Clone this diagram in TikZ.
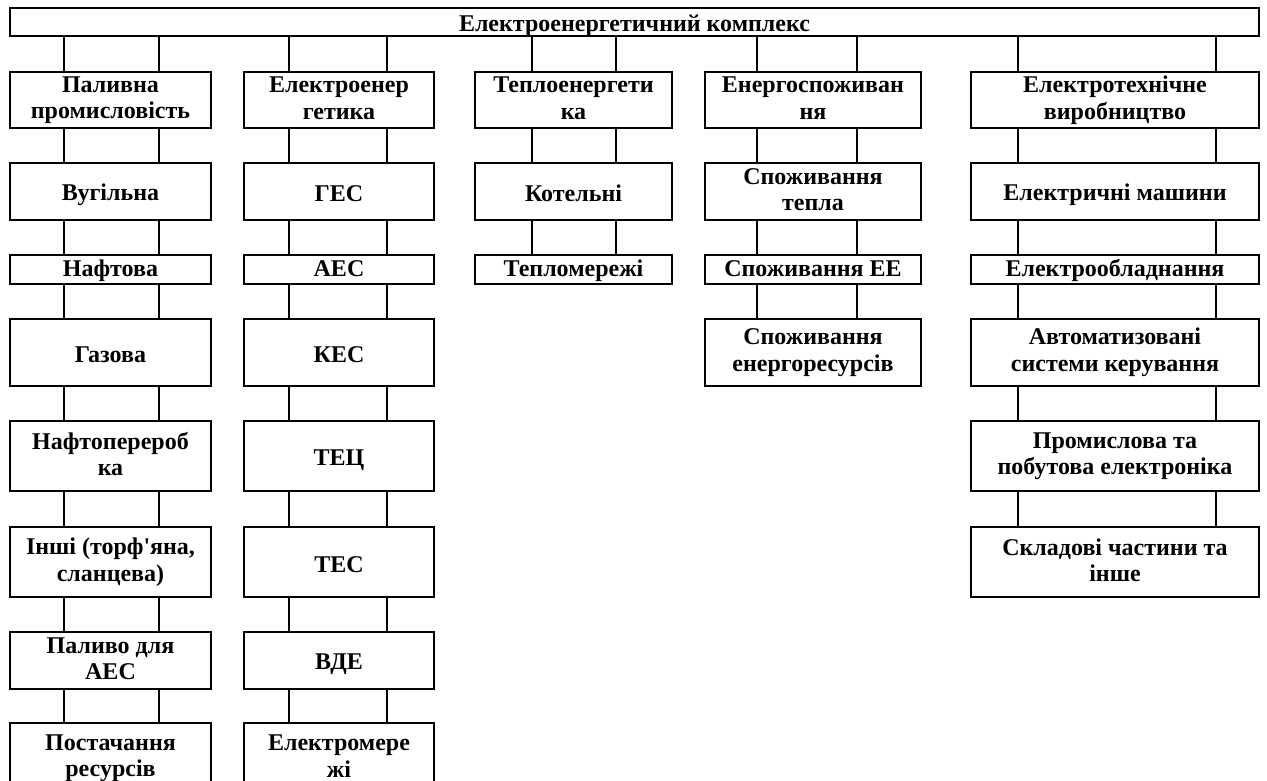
\documentclass[tikz,border=0pt]{standalone}
\usepackage{fontspec}
\setmainfont{Liberation Serif}
\usepackage{tikz}
\newcommand{\boxstrut}{\rule[-4pt]{0pt}{28pt}}
\tikzset{box/.style={draw, line width=2pt, align=center, inner sep=0pt,
    font=\fontsize{24}{26.5}\selectfont\bfseries,
    execute at begin node=\boxstrut, execute at end node=\boxstrut}}
\tikzset{oneline/.style={execute at begin node={}, execute at end node={},
    text height=#1, text depth=4pt}}
\tikzset{link/.style={line width=2pt}}
\tikzset{colA/.style={box, minimum width=201}}
\tikzset{colB/.style={box, minimum width=190}}
\tikzset{colC/.style={box, minimum width=197}}
\tikzset{colD/.style={box, minimum width=216}}
\tikzset{colE/.style={box, minimum width=288}}
\tikzset{hgt/.style={minimum height=#1}}
\tikzset{thin/.style={hgt=29, oneline=17pt}}
\newcommand{\twolinks}[4]{%
  \draw[link] ([xshift=#3]#2.north |- #1.south) -- ([xshift=#3]#2.north);
  \draw[link] ([xshift=#4]#2.north |- #1.south) -- ([xshift=#4]#2.north);}

\begin{document}
\begin{tikzpicture}[x=1pt, y=-1pt]
      \useasboundingbox (0,0) rectangle (1267,780);

      \node[box, minimum width=1249, hgt=28, oneline=23.4pt] (top) at (634.5, 22) {Електроенергетичний комплекс};

      % fuel industry
      \node[colA, hgt=56] (pal) at (110.5, 100) {Паливна\\промисловість};
      \node[colA, hgt=57] (vug) at (110.5, 191.5) {Вугільна};
      \node[colA, thin] (naft) at (110.5, 269.5) {Нафтова};
      \node[colA, hgt=67] (gaz) at (110.5, 352.5) {Газова};
      \node[colA, hgt=70] (nper) at (110.5, 456) {Нафтоперероб\\ка};
      \node[colA, hgt=70] (inshi) at (110.5, 562) {Інші (торф\textquotesingle яна,\\сланцева)};
      \node[colA, hgt=57] (palaes) at (110.5, 660.5) {Паливо для\\АЕС};
      \node[colA, hgt=70] (post) at (110.5, 758) {Постачання\\ресурсів};

      % power
      \node[colB, hgt=56] (elen) at (339, 100) {Електроенер\\гетика};
      \node[colB, hgt=57] (ges) at (339, 191.5) {ГЕС};
      \node[colB, thin] (aes) at (339, 269.5) {АЕС};
      \node[colB, hgt=67] (kes) at (339, 352.5) {КЕС};
      \node[colB, hgt=70] (tec) at (339, 456) {ТЕЦ};
      \node[colB, hgt=70] (tes) at (339, 562) {ТЕС};
      \node[colB, hgt=57] (vde) at (339, 660.5) {ВДЕ};
      \node[colB, hgt=70] (elmer) at (339, 758) {Електромере\\жі};

      % heat
      \node[colC, hgt=56] (tepl) at (573.5, 100) {Теплоенергети\\ка};
      \node[colC, hgt=57] (kot) at (573.5, 191.5) {Котельні};
      \node[colC, thin] (tmer) at (573.5, 269.5) {Тепломережі};

      % consumption
      \node[colD, hgt=56] (ensp) at (813, 100) {Енергоспоживан\\ня};
      \node[colD, hgt=57] (sptep) at (813, 191.5) {Споживання\\тепла};
      \node[colD, thin] (spee) at (813, 269.5) {Споживання ЕЕ};
      \node[colD, hgt=67] (spres) at (813, 352.5) {Споживання\\енергоресурсів};

      % electrical engineering
      \node[colE, hgt=56] (eltech) at (1115, 100) {Електротехнічне\\виробництво};
      \node[colE, hgt=57] (elmash) at (1115, 191.5) {Електричні машини};
      \node[colE, thin] (elobl) at (1115, 269.5) {Електрообладнання};
      \node[colE, hgt=67] (asu) at (1115, 352.5) {Автоматизовані\\системи керування};
      \node[colE, hgt=70] (prom) at (1115, 456) {Промислова та\\побутова електроніка};
      \node[colE, hgt=70] (sklad) at (1115, 562) {Складові частини та\\інше};

      \foreach \a/\b in {top/pal, pal/vug, vug/naft, naft/gaz, gaz/nper, nper/inshi, inshi/palaes, palaes/post}
        {\twolinks{\a}{\b}{-46.5pt}{48.5pt}}
      \foreach \a/\b in {top/elen, elen/ges, ges/aes, aes/kes, kes/tec, tec/tes, tes/vde, vde/elmer}
        {\twolinks{\a}{\b}{-50pt}{48pt}}
      \foreach \a/\b in {top/tepl, tepl/kot, kot/tmer}
        {\twolinks{\a}{\b}{-41.5pt}{42.5pt}}
      \foreach \a/\b in {top/ensp, ensp/sptep, sptep/spee, spee/spres}
        {\twolinks{\a}{\b}{-56pt}{44pt}}
      \foreach \a/\b in {top/eltech, eltech/elmash, elmash/elobl, elobl/asu, asu/prom, prom/sklad}
        {\twolinks{\a}{\b}{-97pt}{101pt}}

    \end{tikzpicture}
\end{document}
